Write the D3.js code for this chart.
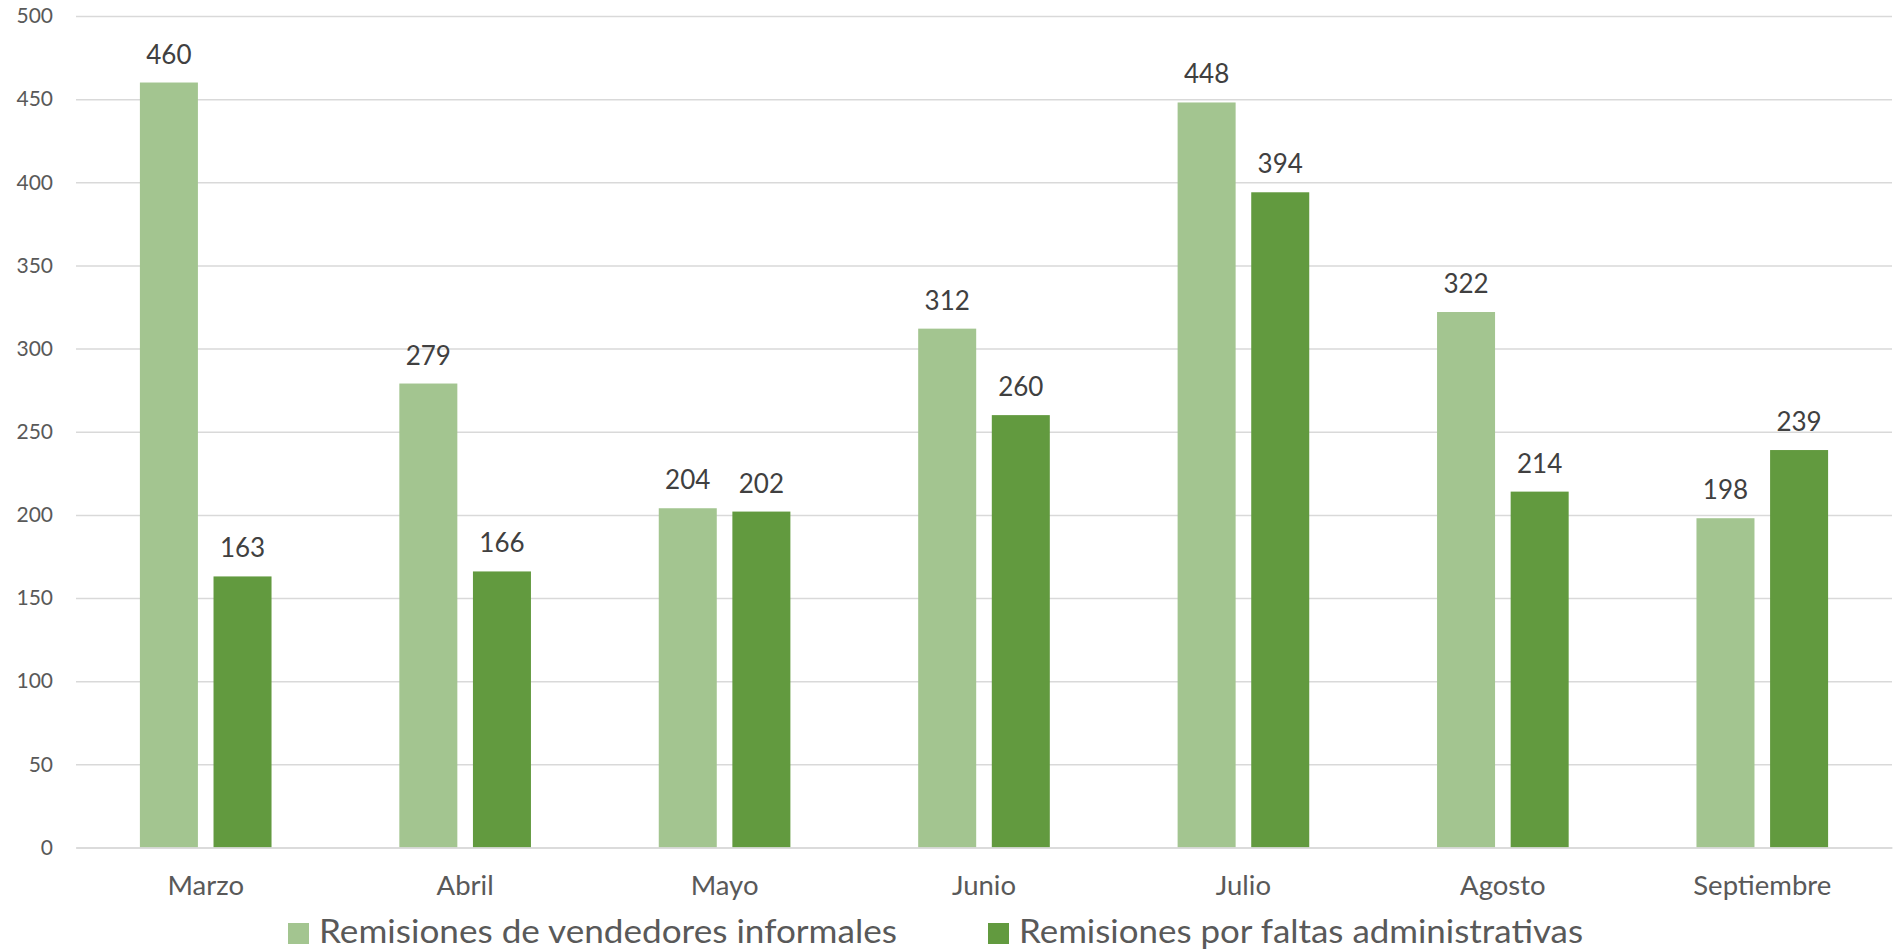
<!DOCTYPE html>
<html>
<head>
<meta charset="utf-8">
<script src="https://cdn.jsdelivr.net/npm/d3@7"></script>
<style>
  html, body { margin: 0; padding: 0; background: #fff; }
  svg { display: block; font-family: Lato, "Open Sans", sans-serif; }
</style>
</head>
<body>
<svg id="chart" width="1898" height="950"></svg>
<script>
const categories = ["Marzo", "Abril", "Mayo", "Junio", "Julio", "Agosto", "Septiembre"];
const seriesNames = ["Remisiones de vendedores informales", "Remisiones por faltas administrativas"];
const informales = [460, 279, 204, 312, 448, 322, 198];
const administrativas = [163, 166, 202, 260, 394, 214, 239];
const yTicks = [0, 50, 100, 150, 200, 250, 300, 350, 400, 450, 500];
const colors = ["#A3C590", "#629A3F"];

const svg = d3.select("#chart");
const plotL = 76, plotR = 1892, plotT = 16, plotB = 847.5;

const x0 = d3.scaleBand().domain(categories).range([plotL, plotR]).paddingInner(0).paddingOuter(0);
const x1 = d3.scaleBand().domain(seriesNames).range([0, x0.bandwidth()]).paddingInner(0.212).paddingOuter(0.868);
const y = d3.scaleLinear().domain([0, 500]).range([plotB, plotT]);

// gridlines
const yAxis = d3.axisLeft(y).tickValues(yTicks).tickSize(-(plotR - plotL)).tickPadding(23);
const gy = svg.append("g").attr("transform", `translate(${plotL},0)`).call(yAxis);
gy.select(".domain").remove();
gy.selectAll(".tick line").attr("stroke", "#D9D9D9").attr("stroke-width", 1.5);
gy.selectAll(".tick text").attr("fill", "#595959").style("font-size", "21px").style("font-family", "Lato, sans-serif");

// bars
const data = categories.map((c, i) => ({ cat: c, vals: [informales[i], administrativas[i]] }));
const groups = svg.append("g").selectAll("g").data(data).join("g")
  .attr("transform", d => `translate(${x0(d.cat)},0)`);
groups.selectAll("rect").data(d => d.vals.map((v, j) => ({ s: seriesNames[j], v, j })))
  .join("rect")
  .attr("x", d => x1(d.s))
  .attr("width", x1.bandwidth())
  .attr("y", d => y(d.v))
  .attr("height", d => y(0) - y(d.v))
  .attr("fill", d => colors[d.j]);
groups.selectAll("text.lbl").data(d => d.vals.map((v, j) => ({ s: seriesNames[j], v, j })))
  .join("text").attr("class", "lbl")
  .attr("x", d => x1(d.s) + x1.bandwidth() / 2)
  .attr("y", d => y(d.v) - 19)
  .attr("text-anchor", "middle")
  .attr("fill", "#404040")
  .style("font-size", "26px")
  .text(d => d.v);

// x axis
const xAxis = d3.axisBottom(x0).tickSize(0).tickPadding(0);
const gx = svg.append("g").attr("transform", `translate(0,${plotB})`).call(xAxis);
gx.select(".domain").attr("stroke", "#D9D9D9").attr("stroke-width", 1.5);
gx.selectAll(".tick text").attr("fill", "#595959").style("font-size", "27.5px")
  .style("font-family", "Lato, sans-serif").attr("dy", null).attr("y", 47);

// legend
const legendX = [288, 988];
const legendW = [578, 564];
const leg = svg.append("g").selectAll("g").data(seriesNames).join("g");
leg.append("rect")
  .attr("x", (d, i) => legendX[i]).attr("y", 923).attr("width", 21).attr("height", 21)
  .attr("fill", (d, i) => colors[i]);
leg.append("text")
  .attr("x", (d, i) => legendX[i] + 31).attr("y", 943)
  .attr("fill", "#595959").style("font-size", "33px")
  .attr("textLength", (d, i) => legendW[i]).attr("lengthAdjust", "spacingAndGlyphs")
  .text(d => d);
</script>
</body>
</html>
